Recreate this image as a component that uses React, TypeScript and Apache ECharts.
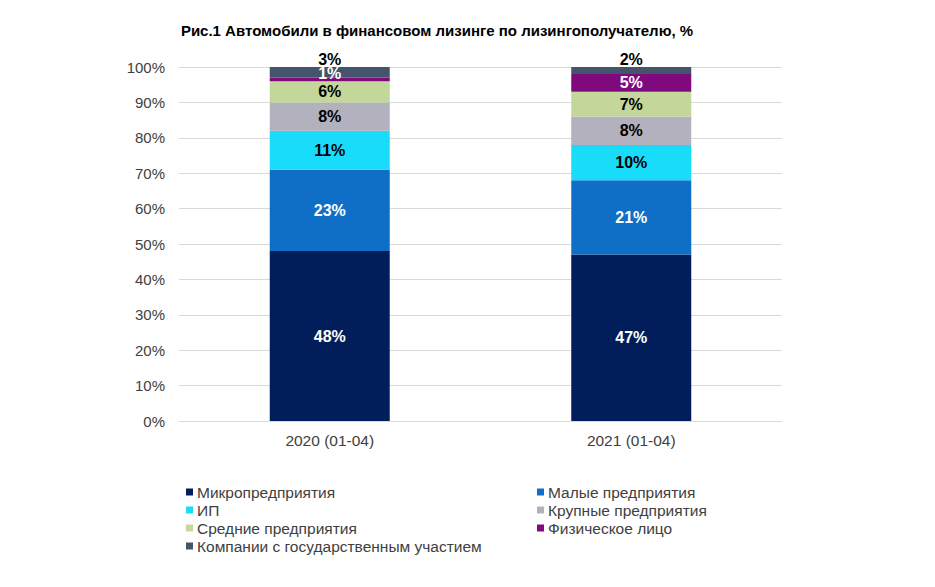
import React, { useEffect, useRef } from "react";
import * as echarts from "echarts";

const categories = ["2020 (01-04)", "2021 (01-04)"];
const seriesNames = [
  "Микропредприятия",
  "Малые предприятия",
  "ИП",
  "Крупные предприятия",
  "Средние предприятия",
  "Физическое лицо",
  "Компании с государственным участием",
];
const micro = [48, 47];
const small = [23, 21];
const ip = [11, 10];
const large = [8, 8];
const medium = [6, 7];
const individual = [1, 5];
const stateOwned = [3, 2];
const yTicks = [0, 10, 20, 30, 40, 50, 60, 70, 80, 90, 100];

const colors = ["#021e5a", "#0f6fc6", "#19dcfa", "#b2b1bd", "#c4d79b", "#7e0a7e", "#44546a"];
const labelColors = ["#ffffff", "#ffffff", "#000000", "#000000", "#000000", "#ffffff", "#000000"];
const values = [micro, small, ip, large, medium, individual, stateOwned];

export default function App() {
  const ref = useRef<HTMLDivElement>(null);
  useEffect(() => {
    if (!ref.current) return;
    const chart = echarts.init(ref.current, null, { renderer: "svg" });
    const font = "'Liberation Sans', Arial, sans-serif";
    const series = values.map((vals, i) => ({
      name: seriesNames[i],
      type: "bar",
      stack: "total",
      barWidth: 120,
      itemStyle: { color: colors[i] },
      data: vals.map((v, j) => {
        const item: any = { value: v };
        if (i === 5 && j === 0) {
          item.label = { offset: [0, -6] };
        }
        return item;
      }),
      label: {
        show: true,
        position: i === 6 ? "top" : "inside",
        distance: 0,
        formatter: "{c}%",
        color: labelColors[i],
        fontWeight: "bold",
        fontSize: 16,
        fontFamily: font,
      },
    }));
    const left = seriesNames.filter((_, i) => i % 2 === 0);
    const right = seriesNames.filter((_, i) => i % 2 === 1);
    const legendCommon = {
      orient: "vertical",
      itemWidth: 7,
      itemHeight: 7,
      itemGap: 2,
      icon: "rect",
      textStyle: { fontSize: 15.5, color: "#404040", fontFamily: font, padding: [0, 0, 0, -1] },
    };
    chart.setOption({
      animation: false,
      backgroundColor: "#ffffff",
      title: {
        text: "Рис.1 Автомобили в финансовом лизинге по лизингополучателю, %",
        left: 432,
        textAlign: "center",
        top: 18,
        textStyle: { fontSize: 15, fontWeight: "bold", color: "#000000", fontFamily: font },
      },
      legend: [
        { ...legendCommon, left: 181, top: 479, data: left },
        { ...legendCommon, left: 532, top: 479, data: right },
      ],
      grid: { left: 179, right: 153, top: 67, bottom: 166 },
      xAxis: {
        type: "category",
        data: categories,
        axisLine: { show: false },
        axisTick: { show: false },
        axisLabel: { fontSize: 15.5, color: "#404040", fontFamily: font, margin: 11 },
      },
      yAxis: {
        type: "value",
        min: 0,
        max: 100,
        interval: 10,
        axisLabel: {
          formatter: (v: number) => (yTicks.includes(v) ? v + "%" : ""),
          fontSize: 15,
          color: "#404040",
          fontFamily: font,
          margin: 14,
        },
        splitLine: { lineStyle: { color: "#d9d9d9", width: 1 } },
      },
      series,
    });
    return () => chart.dispose();
  }, []);
  return (
    <div
      ref={ref}
      style={{ position: "fixed", left: 0, top: 0, width: 935, height: 587 }}
    />
  );
}
